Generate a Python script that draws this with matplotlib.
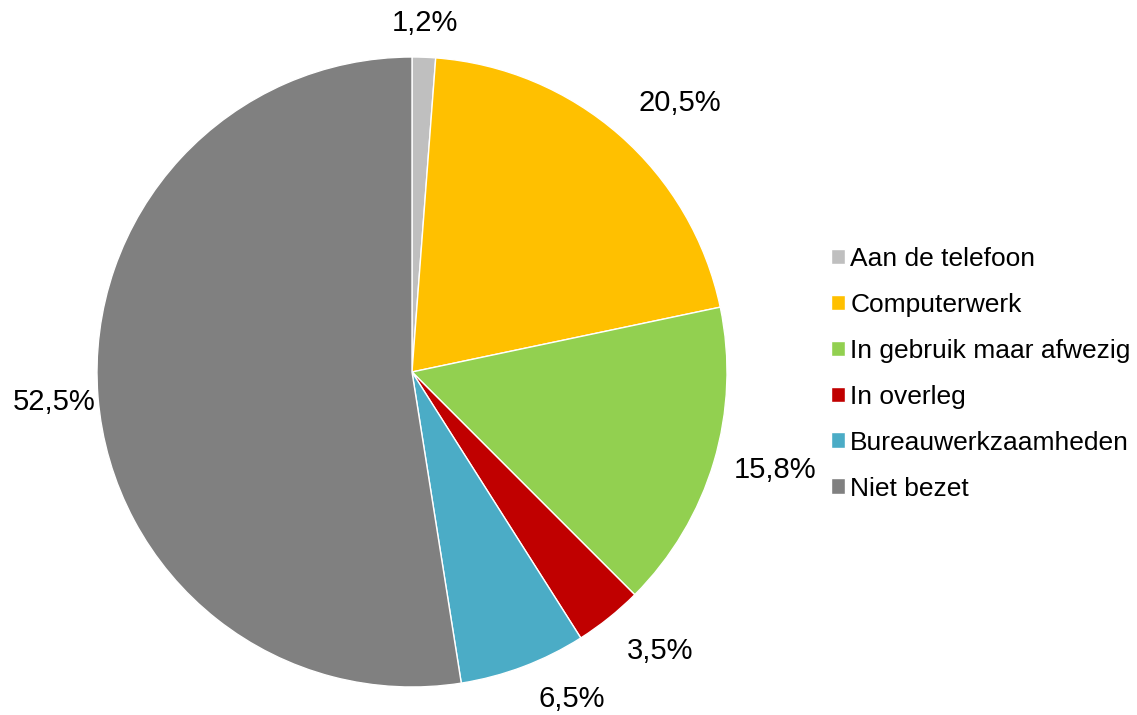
import matplotlib.pyplot as plt
import numpy as np

plt.rcParams["font.family"] = ["Liberation Sans", "DejaVu Sans"]

categories = ["Aan de telefoon", "Computerwerk", "In gebruik maar afwezig",
              "In overleg", "Bureauwerkzaamheden", "Niet bezet"]
values = [1.2, 20.5, 15.8, 3.5, 6.5, 52.5]
labels = ["1,2%", "20,5%", "15,8%", "3,5%", "6,5%", "52,5%"]
colors = ["#BFBFBF", "#FFC000", "#92D050", "#C00000", "#4BACC6", "#808080"]

fig = plt.figure(figsize=(11.37, 7.15), dpi=100)
ax = fig.add_axes([97 / 1137, 28 / 715, 630 / 1137, 630 / 715])

wedges, _ = ax.pie(values, colors=colors, startangle=90, counterclock=False,
                   radius=1, wedgeprops=dict(edgecolor="white", linewidth=1))
ax.set_xlim(-1, 1)
ax.set_ylim(-1, 1)
ax.set_aspect("equal")

# label placement (distance from centre, angle shift in degrees), "best fit" style
dists = [1.11, 1.205, 1.195, 1.185, 1.155, 1.14]
shifts = [0, -3.7, 1.5, 3, 5.4, 0.3]
for w, lab, d, s in zip(wedges, labels, dists, shifts):
    ang = np.deg2rad((w.theta1 + w.theta2) / 2 + s)
    ax.text(d * np.cos(ang), d * np.sin(ang), lab, ha="center", va="center",
            fontsize=21, clip_on=False)

ax.legend(wedges, categories, loc="upper left", bbox_to_anchor=(831 / 1137, 1 - 247 / 715),
          bbox_transform=fig.transFigure, frameon=False, fontsize=19,
          handlelength=0.53, handleheight=0.53, handletextpad=0.2, labelspacing=0.83,
          borderaxespad=0, borderpad=0)

fig.savefig("out.png", dpi=100)
